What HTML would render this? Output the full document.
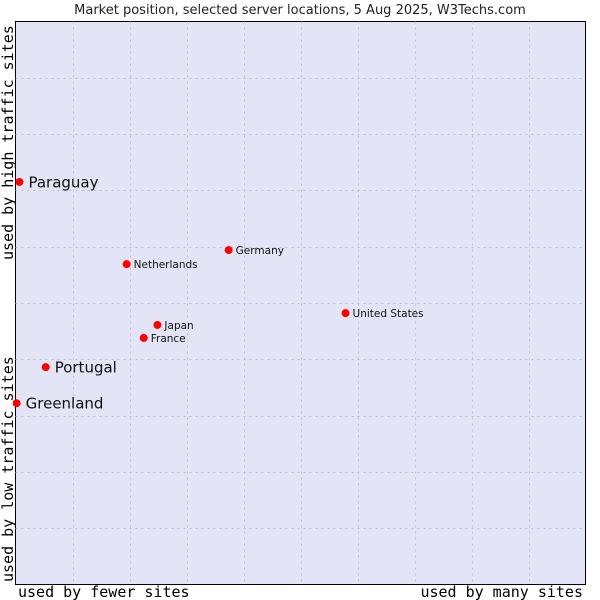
<!DOCTYPE html>
<html><head><meta charset="utf-8"><style>
body{margin:0;background:#fff;width:600px;height:600px;overflow:hidden}
svg{display:block}
</style></head><body>
<svg id="chart" width="600" height="600" xmlns="http://www.w3.org/2000/svg">
<text x="300" y="14" text-anchor="middle" font-family="DejaVu Sans, sans-serif" font-size="13" fill="#222">Market position, selected server locations, 5 Aug 2025, W3Techs.com</text>
<rect x="15.5" y="21.5" width="570" height="563" fill="#e3e5f7" stroke="#000" stroke-width="1"/>
<g id="grid"></g>
<g id="points"></g>
<text x="18" y="597" font-family="DejaVu Sans Mono, monospace" font-size="15" fill="#000">used by fewer sites</text>
<text x="583" y="597" text-anchor="end" font-family="DejaVu Sans Mono, monospace" font-size="15" fill="#000">used by many sites</text>
<text transform="translate(13,582) rotate(-90)" font-family="DejaVu Sans Mono, monospace" font-size="15" fill="#000">used by low traffic sites</text>
<text transform="translate(13,260) rotate(-90)" font-family="DejaVu Sans Mono, monospace" font-size="15" fill="#000">used by high traffic sites</text>
</svg>
<script>
const names=["Paraguay","Portugal","Greenland","Netherlands","Germany","United States","Japan","France"];
const xValues=[0.07,0.53,0.02,1.95,3.74,5.79,2.49,2.25];
const yValues=[7.15,3.86,3.22,5.69,5.94,4.82,4.61,4.38];
const bigLabel=[true,true,true,false,false,false,false,false];
const NS="http://www.w3.org/2000/svg";
const X0=15.5,X1=585.5,Y0=584.5,Y1=21.5;
function sx(v){return X0+v/10*(X1-X0);}
function sy(v){return Y0-v/10*(Y0-Y1);}
const grid=document.getElementById('grid');
for(let i=1;i<10;i++){
 const lv=document.createElementNS(NS,'line');
 lv.setAttribute('x1',Math.round(sx(i))+0.5);lv.setAttribute('x2',Math.round(sx(i))+0.5);
 lv.setAttribute('y1',Y1);lv.setAttribute('y2',Y0);
 lv.setAttribute('stroke','#c0c0c0');lv.setAttribute('stroke-dasharray','2,4');
 
 
 grid.appendChild(lv);
 const lh=document.createElementNS(NS,'line');
 lh.setAttribute('y1',Math.round(sy(i))+0.5);lh.setAttribute('y2',Math.round(sy(i))+0.5);
 lh.setAttribute('x1',X0);lh.setAttribute('x2',X1);
 lh.setAttribute('stroke','#c0c0c0');lh.setAttribute('stroke-dasharray','2,4');
 
 
 grid.appendChild(lh);
}
const pts=document.getElementById('points');
names.forEach((n,i)=>{
 const cx=sx(xValues[i]),cy=sy(yValues[i]);
 const c=document.createElementNS(NS,'circle');
 c.setAttribute('cx',cx);c.setAttribute('cy',cy);c.setAttribute('r',4);
 c.setAttribute('fill','#f00');
 
 
 pts.appendChild(c);
 const t=document.createElementNS(NS,'text');
 t.setAttribute('x',cx+(bigLabel[i]?9:7));t.setAttribute('y',cy+(bigLabel[i]?5.5:4));
 t.setAttribute('font-family','DejaVu Sans, sans-serif');
 t.setAttribute('font-size',bigLabel[i]?15:10.5);t.setAttribute('fill','#111');
 t.textContent=n;
 
 
 pts.appendChild(t);
});
</script>
</body></html>
